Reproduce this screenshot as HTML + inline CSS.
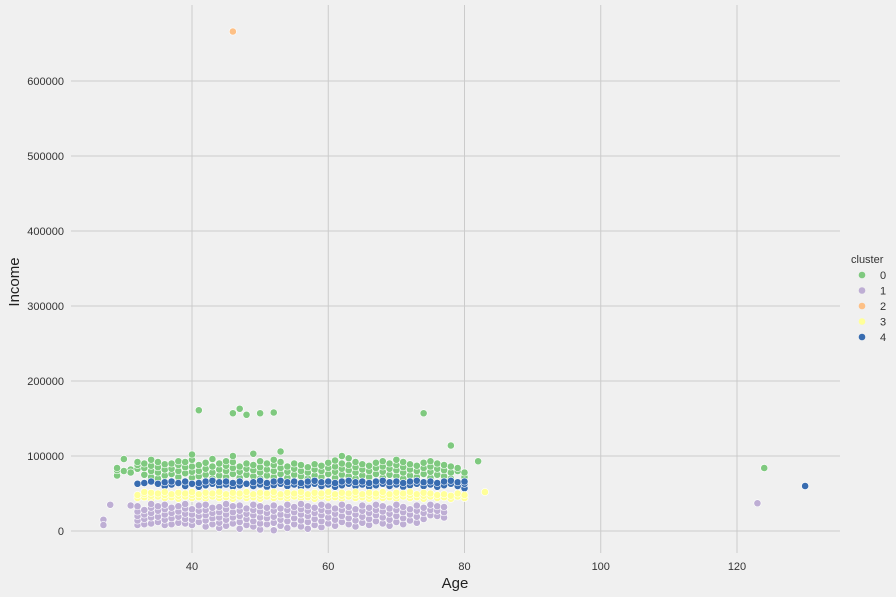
<!DOCTYPE html>
<html><head><meta charset="utf-8">
<style>
body{margin:0;background:#f0f0f0;font-family:"Liberation Sans",sans-serif;}
svg{display:block}
</style></head>
<body>
<svg id="chart" width="896" height="597">
<rect width="896" height="597" fill="#f0f0f0"/>
<g id="grid"></g>
<g id="pts"></g>
<g id="ticks" font-size="11" fill="#333"></g>
<text x="455" y="588" font-size="15" text-anchor="middle" fill="#222">Age</text>
<text x="19" y="282" font-size="15" text-anchor="middle" fill="#222" transform="rotate(-90 19 282)">Income</text>
<g id="legend" font-size="11" fill="#333">
<text x="851" y="263">cluster</text>
</g>
</svg>
<script>
const clusterNames = ["0","1","2","3","4"];
const colors = ["#7fc97f","#beaed4","#fdc086","#ffff99","#386cb0"];
const xTicks = [40,60,80,100,120];
const yTicks = [0,100000,200000,300000,400000,500000,600000];
// rows: age | cluster0 | cluster4 | cluster3 | cluster1  (income in thousands)
const rows = [
"29|74,81,84|||",
"30|80,96|||",
"31|79,82,78|||34",
"32|83,88,92|63|44,48|8,14,20,26,33",
"33|75,84,90|64|45,49,52|9,16,22,28",
"34|72,80,87,95|66|43,47,51|10,18,24,31,36",
"35|70,78,85,92|63|46,50|12,19,27,33",
"36|74,82,89|60,65|44,48,52|8,15,22,29,35",
"37|76,83,90|62,66|45,49|9,17,24,31",
"38|72,80,88,93|64|43,47,51|11,19,26,33",
"39|77,85,92|60,66|46,50|10,16,23,30,36",
"40|71,79,86,95,102|63|44,48,52|8,15,22,29",
"41|73,80,88|59,64|45,49|12,20,27,34",
"42|75,83,91|61,66|43,47,51|6,14,21,28,35",
"43|70,78,86,96|63,67|46,50|9,17,24,31",
"44|74,82,90|60,65|44,48,52|4,11,18,25,32",
"45|72,80,87,93|62,66|45,49|7,15,22,29,36",
"46|76,84,92,100|59,64|43,47,51|10,18,25,33",
"47|71,79,86|61,66|46,50|3,12,20,27,34",
"48|75,83,90|63|44,48,52|8,16,23,30",
"49|73,81,88,103|60,65|45,49|6,13,21,28,35",
"50|70,78,85,93|62,67|43,47,51|2,10,18,26,33",
"51|74,82,90|59,64|46,50|9,17,24,31",
"52|72,80,88,95|61,66|44,48,52|1,11,19,27,34",
"53|76,84,92,106|63,67|45,49|7,15,22,30",
"54|71,79,86|60,65|43,47,51|4,13,21,28,35",
"55|75,83,90|62,66|46,50|9,17,25,32",
"56|73,80,88|59,64|44,48,52|6,14,22,29,36",
"57|70,78,85|61,66|45,49|3,12,20,27,33",
"58|74,82,89|63,67|43,47,51|8,16,24,31",
"59|72,80,87|60,65|46,50|5,13,21,28,35",
"60|76,84,91|62,66|44,48,52|10,18,26,33",
"61|71,79,86,94|59,64|45,49|7,15,23,30",
"62|75,83,90,100|61,66|43,47,51|12,20,28,35",
"63|73,81,88,97|63,67|46,50|9,17,25,32",
"64|70,78,85,92|60,65|44,48,52|6,14,22,29",
"65|74,82,89|62,66|45,49|11,19,27,34",
"66|72,80,87|59,64|43,47,51|8,16,24,31",
"67|76,84,91|61,66|46,50|13,21,28,35",
"68|71,79,86,93|63,67|44,48,52|10,18,26,33",
"69|75,83,90|60,65|45,49|7,15,23,30",
"70|73,81,88,95|62,66|43,47,51|12,20,28,35",
"71|70,78,85,92|59,64|46,50|9,17,25,32",
"72|74,82,89|61,66|44,48,52|14,22,29",
"73|72,80,87|63,67|45,49|11,19,27,34",
"74|76,84,91|60,65|43,47,51|16,24,31",
"75|71,79,86,93|62,66|46,50|21,28,35",
"76|75,83,90|59,64|44,48|20,27,33",
"77|73,81,88|61,66|45,49|18,25,32",
"78|70,78,86|63,67|43,47|",
"79|80,84|60,65|46,50|",
"80|72,78|57,63,66|44,48|",
"82|93|||"
];
// outliers: [age, income, cluster]
const outAges = [41,46,47,48,50,52,74,78,124,27,27,28,123,46,130,83];
const outIncome = [161000,157000,163000,155000,157000,158000,157000,114000,84000,15000,8000,35000,37000,666000,60000,52000];
const outCluster = [0,0,0,0,0,0,0,0,0,1,1,1,1,2,4,3];

const NS="http://www.w3.org/2000/svg";
const L=71,R=840,T=5,B=553;
function xs(a){return 192+(a-40)*6.8125;}
function ys(v){return 531-v*0.00075;}
function mk(tag,attrs,parent){const e=document.createElementNS(NS,tag);for(const k in attrs)e.setAttribute(k,attrs[k]);parent.appendChild(e);return e;}
const grid=document.getElementById('grid'),pts=document.getElementById('pts'),ticks=document.getElementById('ticks'),leg=document.getElementById('legend');
xTicks.forEach(t=>{
  const l=mk('line',{x1:xs(t),x2:xs(t),y1:T,y2:B,stroke:'#cbcbcb','stroke-width':1},grid);
  
  
  const tx=mk('text',{x:xs(t),y:570,'text-anchor':'middle'},ticks);tx.textContent=t;
  
  
});
yTicks.forEach(t=>{
  const l=mk('line',{x1:L,x2:R,y1:ys(t),y2:ys(t),stroke:'#cbcbcb','stroke-width':1},grid);
  
  
  const tx=mk('text',{x:64,y:ys(t)+4,'text-anchor':'end'},ticks);tx.textContent=t;
  
  
});
function dot(a,v,c){
  const d=mk('circle',{cx:xs(a),cy:ys(v),r:3.6,fill:colors[c],stroke:'#ffffff','stroke-width':0.6},pts);
  
  
}
const order=[0,4,3,1];
rows.forEach(r=>{
  const p=r.split('|');const a=+p[0];
  for(let i=1;i<5;i++){ if(!p[i])continue; p[i].split(',').forEach(v=>dot(a,+v*1000,order[i-1])); }
});
outAges.forEach((a,i)=>dot(a,outIncome[i],outCluster[i]));
clusterNames.forEach((n,i)=>{
  const y=275+i*15.5;
  const c=mk('circle',{cx:862,cy:y,r:3.3,fill:colors[i]},leg);
  
  
  const t=mk('text',{x:880,y:y+4},leg);t.textContent=n;
  
  
});
</script>
</body></html>
